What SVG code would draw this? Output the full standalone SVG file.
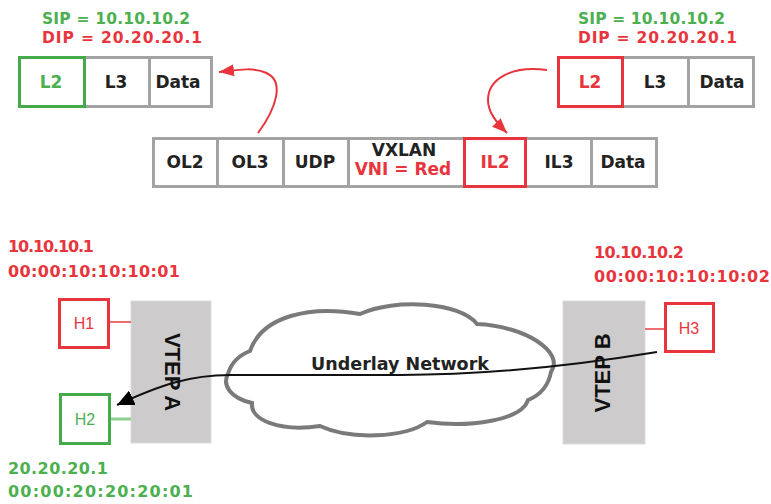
<svg xmlns="http://www.w3.org/2000/svg" width="771" height="504" viewBox="0 0 771 504">
<defs>
<style>
.t{font-family:"DejaVu Sans","Liberation Sans",sans-serif;font-weight:bold}
.cell{font-size:17px;text-anchor:middle;fill:#222}
.lbl{font-size:16px}
.hd{font-size:15.5px}
.red{fill:#e8353d}
.grn{fill:#4cb050}
.pk{fill:#fff;stroke:#a3a3a3;stroke-width:3}
.div{stroke:#a3a3a3;stroke-width:3}
.hr{fill:none;stroke:#e8353d;stroke-width:3}
.hg{fill:none;stroke:#44aa4a;stroke-width:3}
.vtep{fill:#cdcbcc;stroke:#dcdcdc;stroke-width:1}
.vt{font-family:"Liberation Sans",sans-serif;font-weight:bold;font-size:22px;text-anchor:middle;fill:#111}
.h{font-family:"Liberation Sans Narrow","Liberation Sans",sans-serif;font-size:16px;text-anchor:middle}
</style>
<marker id="ar" markerUnits="userSpaceOnUse" markerWidth="16" markerHeight="12" refX="15" refY="6" orient="auto"><path d="M0,0 L15,6 L0,12 Z" fill="#e8353d"/></marker>
<marker id="ab" markerUnits="userSpaceOnUse" markerWidth="18" markerHeight="16" refX="17" refY="8" orient="auto"><path d="M0,0 L17,8 L0,16 Z" fill="#000"/></marker>
</defs>
<rect width="771" height="504" fill="#fff"/>

<g id="pkt-left">
<text class="t hd grn" x="42" y="24" textLength="148">SIP = 10.10.10.2</text>
<text class="t hd red" x="42" y="43" textLength="160">DIP = 20.20.20.1</text>
<rect class="pk" x="19.5" y="57.5" width="192" height="49"/>
<line class="div" x1="84.5" y1="57" x2="84.5" y2="107"/>
<line class="div" x1="149.5" y1="57" x2="149.5" y2="107"/>
<rect class="hg" x="19.5" y="57.5" width="65" height="49"/>
<text class="t cell grn" x="51" y="88">L2</text>
<text class="t cell" x="116" y="88">L3</text>
<text class="t cell" x="178" y="88">Data</text>
</g>

<g id="pkt-right">
<text class="t hd grn" x="578" y="24" textLength="147">SIP = 10.10.10.2</text>
<text class="t hd red" x="578" y="43" textLength="159">DIP = 20.20.20.1</text>
<rect class="pk" x="558.5" y="57.5" width="195" height="49"/>
<line class="div" x1="622.5" y1="57" x2="622.5" y2="107"/>
<line class="div" x1="688.5" y1="57" x2="688.5" y2="107"/>
<rect class="hr" x="558.5" y="57.5" width="64" height="49"/>
<text class="t cell red" x="590" y="88">L2</text>
<text class="t cell" x="655" y="88">L3</text>
<text class="t cell" x="722" y="88">Data</text>
</g>

<g id="pkt-vxlan">
<rect class="pk" x="153.5" y="138.5" width="503" height="48"/>
<line class="div" x1="217.5" y1="138" x2="217.5" y2="187"/>
<line class="div" x1="283.5" y1="138" x2="283.5" y2="187"/>
<line class="div" x1="348.5" y1="138" x2="348.5" y2="187"/>
<line class="div" x1="591.5" y1="138" x2="591.5" y2="187"/>
<rect class="hr" x="464.5" y="138.5" width="61" height="48"/>
<text class="t cell" x="185" y="168">OL2</text>
<text class="t cell" x="250" y="168">OL3</text>
<text class="t cell" x="315" y="168">UDP</text>
<text class="t cell" x="404" y="156">VXLAN</text>
<text class="t cell red" x="403" y="175">VNI = Red</text>
<text class="t cell red" x="495" y="168">IL2</text>
<text class="t cell" x="559" y="168">IL3</text>
<text class="t cell" x="623" y="168">Data</text>
</g>

<g id="cloud">
<path d="M250,351 C262,316 310,305 360,314 C395,298 460,302 477,324 C525,326 565,352 551,372 C548,388 538,396 528,400 C522,420 470,428 427,422 C405,438 350,440 320,426 C280,432 250,420 252,403 C230,398 222,385 228,374 C231,363 240,355 250,351 Z" fill="#fff" stroke="#7a7a7a" stroke-width="4"/>
<text class="t" x="400" y="370" font-size="17.5" text-anchor="middle" fill="#222">Underlay Network</text>
</g>

<g id="vtep-a">
<rect class="vtep" x="131" y="301" width="80" height="142"/>
<text class="vt" transform="translate(165,372) rotate(90)">VTEP A</text>
</g>

<g id="vtep-b">
<rect class="vtep" x="563" y="301" width="82" height="143"/>
<text class="vt" transform="translate(610,373) rotate(-90)">VTEP B</text>
</g>

<g id="h1">
<text class="t lbl red" x="8" y="252" textLength="86">10.10.10.1</text>
<text class="t lbl red" x="8" y="277" textLength="172">00:00:10:10:10:01</text>
<rect class="hr" x="59.5" y="299.5" width="49" height="48"/>
<text class="h red" x="84" y="329">H1</text>
</g>

<g id="h2">
<text class="t lbl grn" x="8" y="474" textLength="100">20.20.20.1</text>
<text class="t lbl grn" x="8" y="497" textLength="185">00:00:20:20:20:01</text>
<rect class="hg" x="60.5" y="394.5" width="49" height="49"/>
<text class="h grn" x="85" y="425">H2</text>
</g>

<g id="h3">
<text class="t lbl red" x="594" y="258" textLength="90">10.10.10.2</text>
<text class="t lbl red" x="594" y="282" textLength="176">00:00:10:10:10:02</text>
<rect class="hr" x="665.5" y="303.5" width="48" height="48"/>
<text class="h red" x="689" y="334">H3</text>
</g>

<g id="connectors">
<line x1="110" y1="322" x2="131" y2="322" stroke="#ec6d72" stroke-width="2"/>
<line x1="111" y1="419" x2="131" y2="419" stroke="#8ed08f" stroke-width="3"/>
<line x1="645" y1="329" x2="664" y2="329" stroke="#ec6d72" stroke-width="2"/>
<path d="M258,133 C275,110 287,80 264,72 C254,68 244,69 219,72" fill="none" stroke="#e8353d" stroke-width="2" marker-end="url(#ar)"/>
<path d="M547,70 C510,65 488,80 488,100 C488,112 496,122 507,133" fill="none" stroke="#e8353d" stroke-width="2" marker-end="url(#ar)"/>
<path d="M657,352 C560,368 480,375 400,375 L230,375 C190,375 160,385 117,405" fill="none" stroke="#111" stroke-width="2" marker-end="url(#ab)"/>
</g>
</svg>
